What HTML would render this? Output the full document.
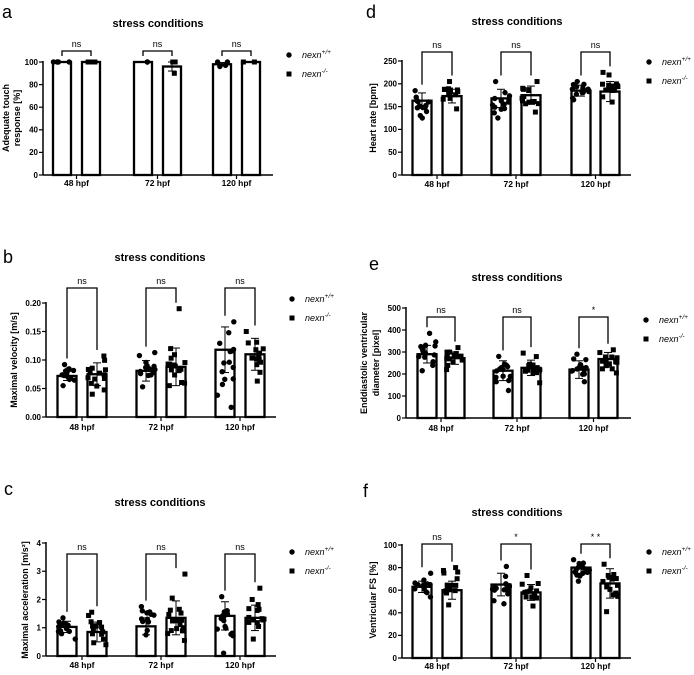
<!DOCTYPE html>
<html><head><meta charset="utf-8">
<style>
body{margin:0;background:#fff;}
svg{display:block;font-family:"Liberation Sans",sans-serif;}
.t{font-weight:bold;font-size:11px;text-anchor:middle;}
.tk{font-weight:bold;font-size:8px;text-anchor:end;}
.xl{font-weight:bold;font-size:8.5px;text-anchor:middle;}
.ns{font-size:9px;text-anchor:middle;}
.yl{font-weight:bold;font-size:9px;text-anchor:middle;}
.lg{font-style:italic;font-size:9px;}
.pl{font-size:18px;}
</style></head><body>
<svg id="s" width="694" height="675" viewBox="0 0 694 675">
<text class="pl" x="2" y="18">a</text>
<text class="pl" x="3" y="263">b</text>
<text class="pl" x="4" y="495">c</text>
<text class="pl" x="366" y="18">d</text>
<text class="pl" x="369" y="270">e</text>
<text class="pl" x="363" y="497">f</text>

<text class="t" x="158" y="27">stress conditions</text>
<text class="t" x="160" y="261">stress conditions</text>
<text class="t" x="160" y="506">stress conditions</text>
<text class="t" x="517" y="25">stress conditions</text>
<text class="t" x="517" y="281">stress conditions</text>
<text class="t" x="517" y="516">stress conditions</text>

<text class="yl" transform="translate(9,118) rotate(-90)">Adequate touch</text>
<text class="yl" transform="translate(20,118) rotate(-90)">response [%]</text>
<text class="yl" transform="translate(17,360) rotate(-90)">Maximal velocity [m/s]</text>
<text class="yl" transform="translate(28,600) rotate(-90)">Maximal acceleration [m/s²]</text>
<text class="yl" transform="translate(376,118) rotate(-90)">Heart rate [bpm]</text>
<text class="yl" transform="translate(367,363) rotate(-90)">Enddiastolic ventricular</text>
<text class="yl" transform="translate(379,363) rotate(-90)">diameter [pixel]</text>
<text class="yl" transform="translate(376,600) rotate(-90)">Ventricular FS [%]</text>
</svg>
<script>
var s=document.getElementById('s');var NS='http://www.w3.org/2000/svg';
function el(n,a){var e=document.createElementNS(NS,n);for(var k in a)e.setAttribute(k,a[k]);s.appendChild(e);return e;}
function tx(c,x,y,t,extra){var e=el('text',Object.assign({class:c,x:x,y:y},extra||{}));e.textContent=t;return e;}
var seed=7;function rnd(){seed=(seed*16807)%2147483647;return seed/2147483647;}
var P=[
{ax:43,y0:175,yt:62,max:100,ticks:[0,20,40,60,80,100],fmt:0,xend:273,cx:[62,91,143,172,222,251],bw:18,bt:51,labs:['ns','ns','ns'],xl:186,lx:289,ly:55,
 d:[[100,[100,100,100,100]],[100,[100,100,100]],[100,[100,100]],[96,[100,100,90]],[98,[100,100,96,97]],[100,[100,100]]],sd:[0,0,0,4,1.5,0]},
{ax:46,y0:417,yt:303,max:0.2,ticks:[0,0.05,0.10,0.15,0.20],fmt:2,xend:276,cx:[67,97,146,176,225,255],bw:19,bt:288,labs:['ns','ns','ns'],xl:430,lx:292,ly:299,
 d:[[.072,[.055,.092]],[.075,[.04,.107]],[.081,[.053,.113]],[.088,[.055,.12,.19]],[.118,[.017,.167]],[.11,[.063,.15]]],sd:[.008,.02,.018,.033,.04,.028]},
{ax:46,y0:656,yt:543,max:4,ticks:[0,1,2,3,4],fmt:0,xend:276,cx:[67,97,146,176,225,255],bw:19,bt:554,labs:['ns','ns','ns'],xl:668,lx:292,ly:552,
 d:[[1.03,[.6,1.35]],[.85,[.4,1.55]],[1.05,[.75,1.75]],[1.35,[.55,2.05,2.9]],[1.42,[.1,2.1]],[1.35,[.6,2.4]]],sd:[.2,.35,.3,.6,.5,.45]},
{ax:402,y0:175,yt:61,max:250,ticks:[0,50,100,150,200,250],fmt:0,xend:631,cx:[422,452,501,531,581,610],bw:19,bt:52,labs:['ns','ns','ns'],xl:187,lx:649,ly:62,
 d:[[163,[125,185]],[173,[145,205]],[168,[125,205]],[175,[138,205]],[185,[165,205]],[183,[160,225]]],sd:[17,15,20,20,12,22]},
{ax:406,y0:418,yt:308,max:500,ticks:[0,100,200,300,400,500],fmt:0,xend:631,cx:[427,455,503,531,579,608],bw:19,bt:317,labs:['ns','ns','*'],xl:431,lx:646,ly:320,
 d:[[290,[215,385]],[272,[220,320]],[215,[125,280]],[228,[160,295]],[220,[165,290]],[268,[205,310]]],sd:[40,28,45,35,40,30]},
{ax:402,y0:658,yt:545,max:100,ticks:[0,20,40,60,80,100],fmt:0,xend:631,cx:[422,452,501,531,581,610],bw:19,bt:544,labs:['ns','*','* *'],xl:669,lx:649,ly:552,
 d:[[63,[54,75]],[60,[47,80]],[65,[48,81]],[58,[46,73]],[80,[68,87]],[66,[41,83]]],sd:[5,8,10,7,5,13]}
];
P.forEach(function(p){
 var Y=function(v){return p.y0-v/p.max*(p.y0-p.yt);};
 el('line',{x1:p.ax,y1:p.yt-1,x2:p.ax,y2:p.y0,stroke:'#000','stroke-width':1.5});
 el('line',{x1:p.ax,y1:p.y0,x2:p.xend,y2:p.y0,stroke:'#000','stroke-width':1.5});
 p.ticks.forEach(function(t){var y=Y(t);el('line',{x1:p.ax-4,y1:y,x2:p.ax,y2:y,stroke:'#000','stroke-width':1.2});
  tx('tk',p.ax-5,y+2.8,t.toFixed(p.fmt));});
 var hp=['48 hpf','72 hpf','120 hpf'];
 for(var g=0;g<3;g++){var mx=(p.cx[2*g]+p.cx[2*g+1])/2;
  el('line',{x1:mx,y1:p.y0,x2:mx,y2:p.y0+4,stroke:'#000','stroke-width':1.2});
  tx('xl',mx,p.xl,hp[g]);}
 var tops=[];
 p.d.forEach(function(d,i){
  var cx=p.cx[i],m=d[0],sd=p.sd[i],ext=d[1];
  el('rect',{x:cx-p.bw/2,y:Y(m),width:p.bw,height:p.y0-Y(m),fill:'#fff',stroke:'#000','stroke-width':2.3});
  var pts=ext.slice();var lo=ext[0],hi=ext[1];
  var n=(p===P[0])?0:13;for(var k=0;k<n;k++){var r=(rnd()+rnd()+rnd())/3;pts.push(lo+(hi-lo)*r);}
  var top=Y(m+sd);
  pts.forEach(function(v){var x=cx+(rnd()-0.5)*p.bw*0.95,y=Y(v);top=Math.min(top,y);
   if(i%2==0)el('circle',{cx:x,cy:y,r:2.7,fill:'#000'});else el('rect',{x:x-2.5,y:y-2.5,width:5,height:5,fill:'#000'});});
  if(sd>0){el('line',{x1:cx,y1:Y(m+sd),x2:cx,y2:Y(m-sd),stroke:'#000','stroke-width':1});
   el('line',{x1:cx-4,y1:Y(m+sd),x2:cx+4,y2:Y(m+sd),stroke:'#000','stroke-width':1});
   el('line',{x1:cx-4,y1:Y(m-sd),x2:cx+4,y2:Y(m-sd),stroke:'#000','stroke-width':1});}
  tops.push(top);
 });
 for(var g=0;g<3;g++){var a=p.cx[2*g],b=p.cx[2*g+1];
  var la=Math.max(p.bt+5,tops[2*g]-6),lb=Math.max(p.bt+5,tops[2*g+1]-6);
  el('polyline',{points:a+','+la+' '+a+','+p.bt+' '+b+','+p.bt+' '+b+','+lb,fill:'none',stroke:'#000','stroke-width':1.3});
  tx('ns',(a+b)/2,p.bt-4,p.labs[g]);}
 el('circle',{cx:p.lx,cy:p.ly,r:2.7,fill:'#000'});
 el('rect',{x:p.lx-2.5,y:p.ly+16.5,width:5,height:5,fill:'#000'});
 var t1=tx('lg',p.lx+13,p.ly+3,'nexn');var s1=document.createElementNS(NS,'tspan');s1.setAttribute('dy','-4');s1.setAttribute('font-size','6.5');s1.textContent='+/+';t1.appendChild(s1);
 var t2=tx('lg',p.lx+13,p.ly+22,'nexn');var s2=document.createElementNS(NS,'tspan');s2.setAttribute('dy','-4');s2.setAttribute('font-size','6.5');s2.textContent='-/-';t2.appendChild(s2);
});
</script>
</body></html>
